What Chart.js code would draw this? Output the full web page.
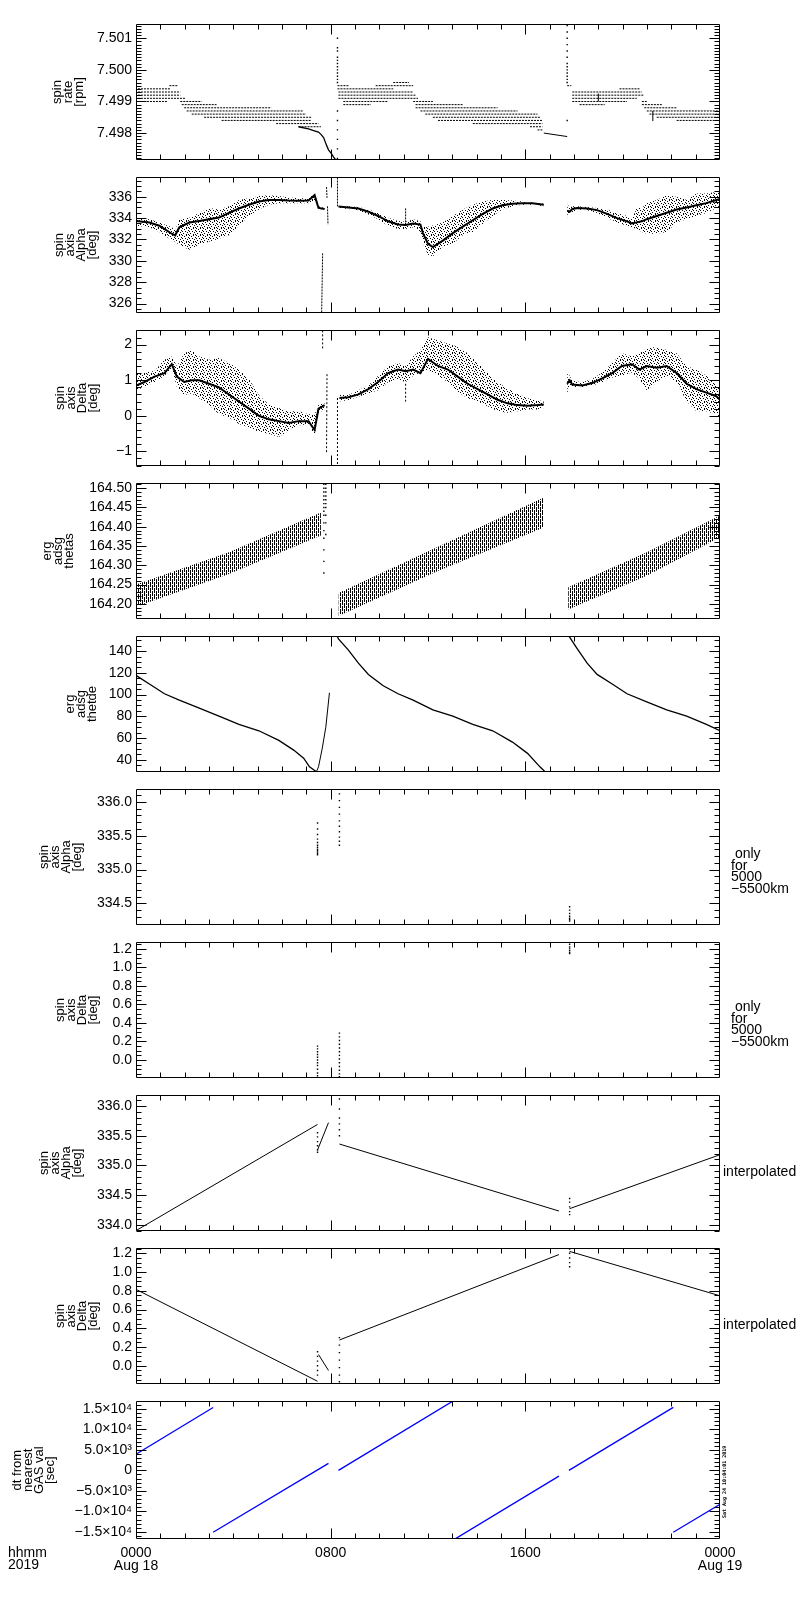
<!DOCTYPE html>
<html lang="en">
<head>
<meta charset="utf-8">
<title>ERG spin axis</title>
<script src="https://cdn.jsdelivr.net/npm/chart.js@4.4.1/dist/chart.umd.min.js"></script>
<style>
body {margin: 0; background: #fff;}
#wrap {position: relative; width: 800px; height: 1600px; background: #fff;}
#wrap canvas {position: absolute; left: 0;}
</style>
</head>
<body>
<div id="wrap"></div>
<script>
// ---------- x axis (hours of Aug 18, 2019) ----------
const xLabelHours = [0, 8, 16, 24];
const xLabelText = [['0000', 'Aug 18'], ['0800'], ['1600'], ['0000', 'Aug 19']];

// ---------- panel 1 : spin rate [rpm] ----------
const rateTicks = [7.498, 7.499, 7.500, 7.501];
const rateRowLevel = [7.4995, 7.4994, 7.4993, 7.4992, 7.4991, 7.4990, 7.4990, 7.4989, 7.4988, 7.4987, 7.4986, 7.4985, 7.4984, 7.4983, 7.4982,
  7.4996, 7.4995, 7.4995, 7.4994, 7.4993, 7.4992, 7.4991, 7.4990, 7.4990, 7.4989, 7.4989, 7.4988, 7.4987, 7.4986, 7.4985, 7.4984, 7.4983, 7.4982, 7.4981,
  7.4995, 7.4994, 7.4993, 7.4992, 7.4991, 7.4990, 7.4990, 7.4989, 7.4989, 7.4988, 7.4987, 7.4986, 7.4985, 7.4984];
const rateRowStart = [1.37, 0.08, 0.08, 0.08, 0.08, 0.08, 1.82, 1.88, 1.98, 2.08, 2.29, 2.80, 3.52, 5.76, 6.68,
  10.57, 8.28, 9.85, 8.28, 8.32, 8.32, 8.32, 8.52, 11.39, 8.52, 11.49, 11.49, 11.69, 11.89, 12.20, 12.41, 13.84, 16.19, 16.50,
  17.72, 19.87, 17.93, 17.93, 17.93, 17.93, 20.79, 18.23, 20.79, 20.89, 20.99, 21.10, 21.40, 22.22];
const rateRowEnd = [1.72, 1.43, 1.82, 1.82, 2.02, 1.27, 2.70, 3.31, 5.56, 6.89, 6.99, 7.20, 7.20, 7.50, 7.60,
  11.22, 8.73, 11.39, 10.57, 11.39, 11.49, 11.59, 10.36, 12.20, 9.65, 13.43, 14.86, 15.68, 16.50, 16.60, 16.70, 16.70, 16.70, 16.70,
  17.89, 20.69, 20.79, 20.89, 20.58, 20.18, 20.99, 19.26, 21.61, 22.22, 24, 24, 24, 24];
const rateDropT = [6.68, 7.09, 7.30, 7.50, 7.60, 7.71, 7.81, 7.91, 8.01, 8.12, 8.22, 8.28];
const rateDropV = [7.49820, 7.49813, 7.49808, 7.49803, 7.49796, 7.49786, 7.49765, 7.49747, 7.49737, 7.49724, 7.49714, 7.49708];
const rateTailT = [16.76, 17.72];
const rateTailV = [7.49800, 7.49789];
const rateSpikeA = [7.4972, 7.4975, 7.4978, 7.4981, 7.4984, 7.4987, 7.4996, 7.4997, 7.4998, 7.4999, 7.5000, 7.5001, 7.5002, 7.5003, 7.5004, 7.5006, 7.5007, 7.5010];
const rateSpikeB = [7.4984, 7.4996, 7.4997, 7.4998, 7.4999, 7.5000, 7.5001, 7.5002, 7.5004, 7.5006, 7.5008, 7.5010, 7.5012, 7.5014];
const rateBars = [[19.0, 7.4990, 19.0, 7.49925], [21.24, 7.49838, 21.24, 7.4987]];

// ---------- panel 2 : spin axis Alpha ----------
const alphaTicks = [326, 328, 330, 332, 334, 336];
const alphaT1 = [0.00, 0.55, 0.96, 1.47, 1.61, 1.78, 2.19, 2.60, 3.00, 3.41, 3.82, 4.23, 4.64, 5.05, 5.46, 5.87, 6.28, 6.68, 7.09, 7.34, 7.50, 7.75];
const alphaHi1 = [334.04, 333.89, 333.59, 333.14, 332.84, 333.89, 334.04, 334.49, 334.95, 334.80, 335.10, 335.70, 335.85, 336.06, 336.15, 336.06, 335.94, 335.85, 335.85, 336.30, 335.10, 334.95];
const alphaLo1 = [333.29, 333.14, 332.69, 331.93, 331.78, 331.48, 331.03, 331.48, 331.78, 332.08, 332.39, 333.29, 334.19, 334.80, 335.25, 335.40, 335.40, 335.40, 335.40, 335.70, 334.86, 334.80];
const alphaMid1 = [333.74, 333.59, 333.29, 332.54, 332.39, 333.14, 333.59, 333.74, 333.89, 334.05, 334.49, 334.90, 335.25, 335.55, 335.70, 335.70, 335.64, 335.62, 335.64, 336.15, 334.95, 334.86];
const alphaT2 = [8.32, 8.73, 9.14, 9.55, 9.95, 10.36, 10.77, 11.08, 11.39, 11.69, 11.79, 12.00, 12.20, 12.61, 13.02, 13.43, 13.84, 14.25, 14.66, 15.06, 15.47, 15.88, 16.29, 16.76];
const alphaHi2 = [335.16, 335.10, 335.04, 334.80, 334.49, 334.04, 333.74, 333.65, 333.89, 333.70, 333.30, 333.20, 333.30, 333.59, 334.19, 334.80, 335.25, 335.55, 335.70, 335.70, 335.64, 335.55, 335.46, 335.34];
const alphaLo2 = [334.95, 334.86, 334.73, 334.34, 333.89, 333.29, 332.99, 332.99, 333.14, 332.69, 331.63, 330.58, 330.43, 331.33, 331.63, 332.39, 332.69, 333.44, 334.19, 334.80, 335.10, 335.25, 335.25, 335.10];
const alphaMid2 = [335.08, 335.00, 334.90, 334.60, 334.20, 333.70, 333.40, 333.35, 333.50, 333.40, 332.60, 331.60, 331.30, 331.90, 332.60, 333.20, 333.80, 334.40, 334.90, 335.20, 335.35, 335.40, 335.38, 335.25];
const alphaT3 = [17.72, 17.82, 17.93, 18.13, 18.54, 18.95, 19.36, 19.77, 20.18, 20.38, 20.58, 20.79, 20.99, 21.40, 21.81, 22.22, 22.63, 23.03, 23.44, 23.85, 24.00];
const alphaHi3 = [335.40, 334.95, 335.10, 335.10, 335.04, 334.95, 334.80, 334.49, 334.19, 333.89, 334.95, 334.95, 335.40, 335.70, 336.15, 336.00, 335.70, 336.30, 336.30, 336.45, 336.30];
const alphaLo3 = [334.04, 334.49, 334.49, 334.80, 334.73, 334.49, 334.04, 333.59, 333.29, 333.14, 332.99, 332.69, 332.54, 332.54, 332.69, 333.59, 333.89, 334.19, 334.49, 334.95, 335.10];
const alphaMid3 = [334.70, 334.60, 334.85, 334.95, 334.90, 334.75, 334.40, 334.00, 333.70, 333.50, 333.60, 333.70, 333.90, 334.20, 334.50, 334.80, 335.00, 335.20, 335.40, 335.70, 335.80];
const alphaSpikes = [[7.67, 330.7, 7.63, 325.2], [7.83, 336.9, 7.85, 335.9], [7.87, 335.1, 7.89, 333.4], [8.28, 337.8, 8.28, 335.1], [11.08, 333.6, 11.08, 335.0]];

// ---------- panel 3 : spin axis Delta ----------
const deltaTicks = [-1, 0, 1, 2];
const deltaT1 = [0.00, 0.35, 0.76, 1.17, 1.47, 1.68, 1.98, 2.29, 2.60, 3.00, 3.41, 3.82, 4.23, 4.64, 5.05, 5.46, 5.87, 6.28, 6.68, 7.09, 7.34, 7.50, 7.75];
const deltaHi1 = [1.169, 1.214, 1.259, 1.575, 1.666, 1.395, 1.756, 1.846, 1.666, 1.575, 1.621, 1.485, 1.304, 1.033, 0.582, 0.311, 0.221, 0.130, 0.130, 0.040, 0.040, 0.311, 0.356];
const deltaLo1 = [0.717, 0.808, 0.943, 1.124, 1.304, 0.808, 0.582, 0.627, 0.491, 0.311, 0.040, -0.051, -0.231, -0.322, -0.457, -0.502, -0.593, -0.412, -0.276, -0.231, -0.547, 0.040, 0.221];
const deltaMid1 = [0.85, 0.95, 1.10, 1.20, 1.45, 1.10, 0.95, 1.00, 1.00, 0.90, 0.80, 0.60, 0.40, 0.20, 0.00, -0.10, -0.15, -0.20, -0.15, -0.15, -0.40, 0.20, 0.30];
const deltaT2 = [8.36, 8.73, 9.14, 9.55, 9.95, 10.36, 10.77, 11.08, 11.39, 11.69, 12.00, 12.41, 12.82, 13.22, 13.63, 14.04, 14.45, 14.86, 15.27, 15.68, 16.09, 16.50, 16.76];
const deltaHi2 = [0.582, 0.582, 0.717, 0.853, 1.124, 1.395, 1.485, 1.395, 1.666, 1.846, 2.208, 2.117, 2.027, 1.937, 1.756, 1.485, 1.214, 0.943, 0.763, 0.627, 0.491, 0.446, 0.401];
const deltaLo2 = [0.401, 0.446, 0.537, 0.627, 0.717, 0.943, 1.033, 0.943, 1.124, 1.214, 1.304, 1.124, 0.943, 0.672, 0.491, 0.401, 0.266, 0.130, 0.085, 0.130, 0.175, 0.175, 0.221];
const deltaMid2 = [0.50, 0.52, 0.60, 0.75, 0.95, 1.20, 1.30, 1.25, 1.30, 1.20, 1.60, 1.40, 1.30, 1.10, 0.90, 0.75, 0.60, 0.45, 0.35, 0.30, 0.28, 0.30, 0.32];
const deltaT3 = [17.72, 17.82, 17.93, 18.34, 18.75, 19.16, 19.57, 19.97, 20.38, 20.69, 20.99, 21.40, 21.81, 22.22, 22.63, 23.03, 23.44, 23.85, 24.00];
const deltaHi3 = [1.259, 1.124, 0.988, 0.943, 1.033, 1.214, 1.485, 1.756, 1.666, 1.756, 1.892, 1.937, 1.846, 1.756, 1.395, 1.304, 1.124, 0.853, 0.763];
const deltaLo3 = [0.582, 0.808, 0.808, 0.808, 0.853, 0.943, 1.079, 1.124, 1.214, 1.033, 0.717, 0.943, 1.124, 0.943, 0.401, 0.130, 0.130, 0.040, -0.051];
const deltaMid3 = [0.90, 1.00, 0.88, 0.85, 0.92, 1.05, 1.20, 1.40, 1.45, 1.30, 1.40, 1.35, 1.40, 1.20, 0.90, 0.75, 0.65, 0.55, 0.45];
const deltaSpikes = [[7.67, 2.40, 7.67, 1.85], [7.85, 1.17, 7.83, -1.05], [8.28, 0.50, 8.28, -1.40], [11.08, 0.90, 11.08, 0.40]];

// ---------- panel 4 : erg adsg thetas ----------
const thetasTicks = [164.20, 164.25, 164.30, 164.35, 164.40, 164.45, 164.50];
const thetasT1 = [0.00, 3.82, 7.60];
const thetasHi1 = [164.250, 164.334, 164.437];
const thetasLo1 = [164.192, 164.277, 164.377];
const thetasT2 = [8.32, 12.41, 16.76];
const thetasHi2 = [164.228, 164.348, 164.476];
const thetasLo2 = [164.168, 164.285, 164.398];
const thetasT3 = [17.76, 20.99, 24.00];
const thetasHi3 = [164.243, 164.334, 164.429];
const thetasLo3 = [164.185, 164.273, 164.373];
const thetasSpikeT = [7.72, 7.80];
const thetasSpikeA = [164.28, 164.31, 164.34, 164.37, 164.39, 164.41, 164.43, 164.44, 164.45, 164.46, 164.47, 164.48, 164.49, 164.50, 164.51];
const thetasSpikeB = [164.38, 164.41, 164.43, 164.45, 164.46, 164.47, 164.48, 164.49, 164.50, 164.51];

// ---------- panel 5 : erg adsg thetde ----------
const thetdeTicks = [40, 60, 80, 100, 120, 140];
const thetdeT1 = [0.00, 0.55, 1.17, 1.78, 2.60, 3.41, 4.23, 5.05, 5.87, 6.48, 6.89, 7.13, 7.40];
const thetdeV1 = [117.7, 109.7, 100.8, 94.9, 87.5, 80.1, 72.6, 66.7, 57.8, 48.9, 41.5, 33.5, 29.2];
const thetdeT2 = [7.42, 7.50, 7.65, 7.80, 7.95];
const thetdeV2 = [29.2, 33.5, 50.0, 70.0, 101.7];
const thetdeT3 = [8.28, 8.32, 8.73, 9.14, 9.55, 10.16, 10.77, 11.39, 12.20, 13.02, 13.84, 14.66, 15.47, 16.09, 16.60, 16.80];
const thetdeV3 = [153.6, 151.3, 140.9, 129.0, 118.6, 108.2, 100.8, 94.9, 86.0, 80.1, 72.6, 66.7, 56.3, 45.9, 33.5, 29.2];
const thetdeT4 = [17.80, 18.13, 18.54, 18.95, 19.57, 20.18, 20.99, 21.81, 22.63, 23.44, 24.00];
const thetdeV4 = [153.6, 142.4, 129.0, 118.6, 109.7, 100.8, 93.4, 86.0, 80.1, 72.6, 66.7];

// ---------- panels 6-7 : only for 5000-5500km ----------
const onlyAlphaTicks = [334.5, 335.0, 335.5, 336.0];
const passT = [7.46, 8.36, 17.82];
const onlyAlphaA = [335.69, 335.60, 335.52, 335.45, 335.40, 335.36, 335.33, 335.30, 335.28, 335.26, 335.24, 335.22];
const onlyAlphaB = [336.12, 336.02, 335.92, 335.82, 335.72, 335.64, 335.56, 335.48, 335.42, 335.36];
const onlyAlphaC = [334.45, 334.40, 334.35, 334.31, 334.28, 334.26, 334.24];
const deltaFineTicks = [0.0, 0.2, 0.4, 0.6, 0.8, 1.0, 1.2];
const onlyDeltaA = [0.15, 0.12, 0.09, 0.06, 0.03, 0.00, -0.03, -0.06, -0.10, -0.14, -0.17];
const onlyDeltaB = [0.29, 0.25, 0.21, 0.17, 0.13, 0.09, 0.05, 0.01, -0.03, -0.07, -0.11, -0.15, -0.18];
const onlyDeltaC = [1.25, 1.22, 1.20, 1.18, 1.16, 1.15];

// ---------- panels 8-9 : interpolated ----------
const interpAlphaTicks = [334.0, 334.5, 335.0, 335.5, 336.0];
const interpAlphaLines = [[0.00, 333.90, 7.46, 335.69], [7.46, 335.26, 7.91, 335.72], [8.36, 335.36, 17.38, 334.23], [17.82, 334.27, 24.00, 335.18]];
const interpAlphaA = [335.55, 335.48, 335.40, 335.33, 335.26, 335.22];
const interpAlphaB = [336.12, 335.95, 335.80, 335.70, 335.60, 335.50];
const interpAlphaC = [334.44, 334.38, 334.30, 334.22, 334.17];
const interpDeltaLines = [[0.00, 0.815, 7.46, -0.165], [7.50, 0.12, 7.91, -0.05], [8.36, 0.275, 17.38, 1.186], [17.82, 1.22, 24.00, 0.746]];
const interpDeltaA = [0.15, 0.10, 0.05, 0.00, -0.05, -0.10];
const interpDeltaB = [0.30, 0.22, 0.14, 0.06, -0.02, -0.10, -0.17];
const interpDeltaC = [1.245, 1.20, 1.15, 1.10, 1.056];

// ---------- panel 10 : dt from nearest GAS val [sec] ----------
const dtTicks = [-15000, -10000, -5000, 0, 5000, 10000, 15000];
const dtTickLabels = ['\u22121.5\u00d710\u2074', '\u22121.0\u00d710\u2074', '\u22125.0\u00d710\u00b3', '0', '5.0\u00d710\u00b3', '1.0\u00d710\u2074', '1.5\u00d710\u2074'];
const dtLines = [[0.00, 3940, 3.17, 15350], [3.17, -15120, 7.91, 1700], [8.32, 0, 13.10, 17200], [13.12, -16720, 17.38, -1400], [17.79, 0, 22.08, 15400], [22.08, -15120, 24.00, -8300]];

// ---------- drawing ----------
const FONT = '"Liberation Sans", "DejaVu Sans", sans-serif';
const PANEL_TOP = 22, PANEL_STEP = 153, PANEL_H = 140, PLOT_R = 720, Y_AXIS_W = 136, PAD = 10, X_AXIS_H = 50;
Chart.defaults.font.family = FONT;
Chart.defaults.color = '#000';

function pts(t, v) { return t.map(function (x, i) { return {x: x, y: v[i]}; }); }

function lineSet(t, v, extra) {
  return Object.assign({data: pts(t, v), borderColor: '#000', borderWidth: 1, pointRadius: 0, fill: false}, extra || {});
}
// loose points only: transparent line, no fill
function dotSet(t, vals, extra) {
  return Object.assign({
    data: vals.map(function (v) { return {x: t, y: v}; }),
    showLine: false, fill: false, borderWidth: 1, borderColor: 'rgba(0,0,0,0)', backgroundColor: 'rgba(0,0,0,0)',
    pointRadius: 1, pointStyle: 'rect', pointBackgroundColor: '#000', pointBorderWidth: 0, pointBorderColor: '#000'
  }, extra || {});
}
// list of [t0, v0, t1, v1] -> one dataset, null breaks between pieces
function segSet(segs, extra) {
  var d = [];
  segs.forEach(function (s) { d.push({x: s[0], y: s[1]}, {x: s[2], y: s[3]}, {x: s[2], y: null}); });
  return Object.assign({data: d, borderColor: '#000', borderWidth: 1, pointRadius: 0, fill: false, spanGaps: false}, extra || {});
}
function bandSets(t, hi, lo, pat) {
  return [
    {data: pts(t, hi), borderColor: 'rgba(0,0,0,0)', borderWidth: 1, backgroundColor: pat, fill: '+1', pointRadius: 0},
    {data: pts(t, lo), borderColor: 'rgba(0,0,0,0)', borderWidth: 1, backgroundColor: 'rgba(0,0,0,0)', pointRadius: 0, fill: false}
  ];
}
function makePattern(w, h, cells) {
  var c = document.createElement('canvas');
  c.width = w; c.height = h;
  var g = c.getContext('2d');
  g.fillStyle = '#000';
  cells.forEach(function (p) { g.fillRect(p[0], p[1], 1, 1); });
  return g.createPattern(c, 'repeat');
}
// speckle for the scattered attitude points, vertical hatch for thetas
var speckle = makePattern(7, 7, [[0,0],[4,0],[2,1],[6,2],[3,3],[0,3],[5,4],[1,5],[4,6],[6,6]]);
var hatch = makePattern(4, 6, [[0,0],[0,1],[0,2],[0,3],[0,4],[2,3],[2,4],[2,5],[2,0],[2,1]]);

// rows of quantised spin-rate values
var rateRows = [];
rateRowLevel.forEach(function (lv, i) {
  rateRows.push({x: rateRowStart[i], y: lv}, {x: rateRowEnd[i], y: lv}, {x: rateRowEnd[i], y: null});
});

var panels = [
  {title: ['spin', 'rate', '[rpm]'], tx: 57, min: 7.49716, max: 7.50144, ticks: rateTicks, minor: 0.0001, dec: 3,
   datasets: [
     {data: rateRows, borderColor: '#000', borderWidth: 1, borderDash: [2, 1], pointRadius: 0, fill: false, spanGaps: false},
     lineSet(rateDropT, rateDropV, {borderWidth: 1.3}),
     lineSet(rateTailT, rateTailV),
     dotSet(8.28, rateSpikeA), dotSet(17.72, rateSpikeB),
     segSet(rateBars)
   ]},
  {title: ['spin', 'axis', 'Alpha', '[deg]'], tx: 59, min: 325.16, max: 337.81, ticks: alphaTicks, minor: 0.5, dec: 0,
   datasets: [].concat(
     bandSets(alphaT1, alphaHi1, alphaLo1, speckle), bandSets(alphaT2, alphaHi2, alphaLo2, speckle), bandSets(alphaT3, alphaHi3, alphaLo3, speckle),
     [lineSet(alphaT1, alphaMid1, {borderWidth: 2}), lineSet(alphaT2, alphaMid2, {borderWidth: 2}), lineSet(alphaT3, alphaMid3, {borderWidth: 2}),
      segSet(alphaSpikes, {borderDash: [2, 1]})])},
  {title: ['spin', 'axis', 'Delta', '[deg]'], tx: 60, min: -1.40, max: 2.40, ticks: deltaTicks, minor: 0.2, dec: 0,
   datasets: [].concat(
     bandSets(deltaT1, deltaHi1, deltaLo1, speckle), bandSets(deltaT2, deltaHi2, deltaLo2, speckle), bandSets(deltaT3, deltaHi3, deltaLo3, speckle),
     [lineSet(deltaT1, deltaMid1, {borderWidth: 2}), lineSet(deltaT2, deltaMid2, {borderWidth: 2}), lineSet(deltaT3, deltaMid3, {borderWidth: 2}),
      segSet(deltaSpikes, {borderDash: [2, 2]})])},
  {title: ['erg', 'adsg', 'thetas'], tx: 47, min: 164.1615, max: 164.5125, ticks: thetasTicks, minor: 0.01, dec: 2,
   datasets: [].concat(
     bandSets(thetasT1, thetasHi1, thetasLo1, hatch), bandSets(thetasT2, thetasHi2, thetasLo2, hatch), bandSets(thetasT3, thetasHi3, thetasLo3, hatch),
     [dotSet(thetasSpikeT[0], thetasSpikeA), dotSet(thetasSpikeT[1], thetasSpikeB)])},
  {title: ['erg', 'adsg', 'thetde'], tx: 70, min: 29.1, max: 153.6, ticks: thetdeTicks, minor: 5, dec: 0,
   datasets: [lineSet(thetdeT1, thetdeV1, {borderWidth: 1.3}), lineSet(thetdeT2, thetdeV2), lineSet(thetdeT3, thetdeV3, {borderWidth: 1.3}), lineSet(thetdeT4, thetdeV4, {borderWidth: 1.3})]},
  {title: ['spin', 'axis', 'Alpha', '[deg]'], tx: 44, min: 334.186, max: 336.186, ticks: onlyAlphaTicks, minor: 0.1, dec: 1,
   note: {lines: [' only', 'for', '5000', '\u22125500km'], x: 731, dy: -3},
   datasets: [dotSet(passT[0], onlyAlphaA), dotSet(passT[1], onlyAlphaB), dotSet(passT[2], onlyAlphaC)]},
  {title: ['spin', 'axis', 'Delta', '[deg]'], tx: 60, min: -0.19, max: 1.27, ticks: deltaFineTicks, minor: 0.05, dec: 1,
   note: {lines: [' only', 'for', '5000', '\u22125500km'], x: 731, dy: -3},
   datasets: [dotSet(passT[0], onlyDeltaA), dotSet(passT[1], onlyDeltaB), dotSet(passT[2], onlyDeltaC)]},
  {title: ['spin', 'axis', 'Alpha', '[deg]'], tx: 44, min: 333.9, max: 336.18, ticks: interpAlphaTicks, minor: 0.1, dec: 1,
   note: {lines: ['interpolated'], x: 723, dy: 9},
   datasets: [segSet(interpAlphaLines), dotSet(passT[0], interpAlphaA), dotSet(passT[1], interpAlphaB), dotSet(passT[2], interpAlphaC)]},
  {title: ['spin', 'axis', 'Delta', '[deg]'], tx: 60, min: -0.19, max: 1.252, ticks: deltaFineTicks, minor: 0.05, dec: 1,
   note: {lines: ['interpolated'], x: 723, dy: 9},
   datasets: [segSet(interpDeltaLines), dotSet(passT[0], interpDeltaA), dotSet(passT[1], interpDeltaB), dotSet(passT[2], interpDeltaC)]},
  {title: ['dt from', 'nearest', 'GAS val', '[sec]'], tx: 17, min: -16760, max: 16850, ticks: dtTicks, minor: 1000, labels: dtTickLabels,
   datasets: [segSet(dtLines, {borderColor: '#0000ff', borderWidth: 1.3})]}
];

// IDL style frame: box, inward ticks on all four sides, side notes
function framePlugin(p, last) {
  return {
    id: 'idlFrame',
    afterDraw: function (chart) {
      var ctx = chart.ctx, a = chart.chartArea, xs = chart.scales.x, ys = chart.scales.y;
      var L = Math.round(a.left) + 0.5, R = Math.round(a.right) - 0.5;
      var T = Math.round(a.top) + 0.5, B = Math.round(a.bottom) - 0.5;
      ctx.save();
      ctx.strokeStyle = '#000';
      ctx.lineWidth = 1;
      ctx.beginPath();
      ctx.rect(L, T, R - L, B - T);
      var i0 = Math.ceil(ys.min / p.minor - 1e-6), i1 = Math.floor(ys.max / p.minor + 1e-6);
      for (var i = i0; i <= i1; i++) {
        var v = i * p.minor;
        var isMajor = p.ticks.some(function (t) { return Math.abs(t - v) < p.minor / 100; });
        var len = isMajor ? 10 : 5;
        var py = Math.round(ys.getPixelForValue(v)) + 0.5;
        ctx.moveTo(L, py); ctx.lineTo(L + len, py);
        ctx.moveTo(R, py); ctx.lineTo(R - len, py);
      }
      for (var h = 1; h < 24; h++) {
        var hl = h % 8 === 0 ? 10 : 5;
        var px = Math.round(xs.getPixelForValue(h)) + 0.5;
        ctx.moveTo(px, T); ctx.lineTo(px, T + hl);
        ctx.moveTo(px, B); ctx.lineTo(px, B - hl);
      }
      ctx.stroke();

      ctx.fillStyle = '#000';
      ctx.textBaseline = 'middle';
      ctx.textAlign = 'left';
      ctx.font = '14px ' + FONT;
      if (p.note) {
        var cy = (a.top + a.bottom) / 2 + p.note.dy;
        p.note.lines.forEach(function (s, k) { ctx.fillText(s, p.note.x, cy + k * 11.7); });
      }
      if (last) {
        ctx.fillText('hhmm', 8, a.bottom + 14);
        ctx.fillText('2019', 8, a.bottom + 26);
        ctx.save();
        ctx.translate(725, a.bottom - 21);
        ctx.rotate(-Math.PI / 2);
        ctx.font = 'bold 5px "DejaVu Sans Mono", monospace';
        ctx.fillText('Sat Aug 24 10:04:01 2019', 0, 0);
        ctx.restore();
      }
      ctx.restore();
    }
  };
}

var wrap = document.getElementById('wrap');
panels.forEach(function (p, k) {
  var last = k === panels.length - 1;
  var cv = document.createElement('canvas');
  cv.width = 800;
  cv.height = PAD + PANEL_H + (last ? X_AXIS_H : PAD);
  cv.style.top = (PANEL_TOP + k * PANEL_STEP - PAD) + 'px';
  wrap.appendChild(cv);

  new Chart(cv, {
    type: 'line',
    data: {datasets: p.datasets},
    options: {
      responsive: false,
      animation: false,
      events: [],
      layout: {padding: {left: 0, right: 800 - PLOT_R, top: PAD, bottom: last ? 0 : PAD}},
      elements: {line: {tension: 0}},
      plugins: {legend: {display: false}, tooltip: {enabled: false}, colors: {enabled: false}},
      scales: {
        x: {
          type: 'linear', min: 0, max: 24, display: last, position: 'bottom',
          grid: {display: false, drawTicks: false}, border: {display: false},
          afterBuildTicks: function (s) { s.ticks = xLabelHours.map(function (v) { return {value: v}; }); },
          afterFit: function (s) { if (last) s.height = X_AXIS_H; },
          ticks: {autoSkip: false, maxRotation: 0, padding: 8, color: '#000',
                  font: {size: 14, lineHeight: 0.9},
                  callback: function (v, i) { return xLabelText[i]; }}
        },
        y: {
          type: 'linear', min: p.min, max: p.max, position: 'left',
          grid: {display: false, drawTicks: false}, border: {display: false},
          afterBuildTicks: function (s) { s.ticks = p.ticks.map(function (v) { return {value: v}; }); },
          afterFit: function (s) { s.width = Y_AXIS_W; },
          ticks: {autoSkip: false, padding: 4, color: '#000', font: {size: 14},
                  callback: function (v, i) {
                    if (p.labels) return p.labels[i];
                    return (v < 0 ? '\u2212' : '') + Math.abs(v).toFixed(p.dec);
                  }},
          title: {display: true, text: p.title, color: '#000',
                  font: {size: 13, lineHeight: 0.85},
                  padding: {top: p.tx - 5.5, bottom: 0}}
        }
      }
    },
    plugins: [framePlugin(p, last)]
  });
});
</script>
</body>
</html>
